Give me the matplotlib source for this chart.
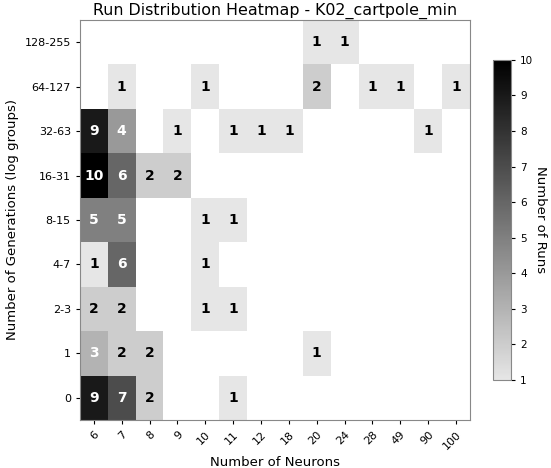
import numpy as np
import matplotlib
matplotlib.use('Agg')
import matplotlib.pyplot as plt
from matplotlib.colors import LinearSegmentedColormap

# Categories
neurons = ['6', '7', '8', '9', '10', '11', '12', '18', '20', '24', '28', '49', '90', '100']
gen_groups = ['0', '1', '2-3', '4-7', '8-15', '16-31', '32-63', '64-127', '128-255']

# Counts per generation group (rows, bottom to top), one value per neuron count
row_0       = [9, 7, 2, 0, 0, 1, 0, 0, 0, 0, 0, 0, 0, 0]
row_1       = [3, 2, 2, 0, 0, 0, 0, 0, 1, 0, 0, 0, 0, 0]
row_2_3     = [2, 2, 0, 0, 1, 1, 0, 0, 0, 0, 0, 0, 0, 0]
row_4_7     = [1, 6, 0, 0, 1, 0, 0, 0, 0, 0, 0, 0, 0, 0]
row_8_15    = [5, 5, 0, 0, 1, 1, 0, 0, 0, 0, 0, 0, 0, 0]
row_16_31   = [10, 6, 2, 2, 0, 0, 0, 0, 0, 0, 0, 0, 0, 0]
row_32_63   = [9, 4, 0, 1, 0, 1, 1, 1, 0, 0, 0, 0, 1, 0]
row_64_127  = [0, 1, 0, 0, 1, 0, 0, 0, 2, 0, 1, 1, 0, 1]
row_128_255 = [0, 0, 0, 0, 0, 0, 0, 0, 1, 1, 0, 0, 0, 0]

counts = np.array([row_0, row_1, row_2_3, row_4_7, row_8_15,
                   row_16_31, row_32_63, row_64_127, row_128_255])

# gray_r starting from light gray so that 1 is not white
cmap = LinearSegmentedColormap.from_list('grays', plt.cm.gray_r(np.linspace(0.1, 1.0, 256)))

fig = plt.figure(figsize=(5.51, 4.68), dpi=100)
ax = fig.add_axes([0.145, 0.1026, 0.708, 0.8547])
cax = fig.add_axes([0.895, 0.188, 0.0327, 0.684])

masked = np.ma.masked_where(counts == 0, counts)
mesh = ax.pcolormesh(np.arange(len(neurons) + 1) - 0.5, np.arange(len(gen_groups) + 1) - 0.5,
                     masked, cmap=cmap, vmin=1, vmax=10)

for i in range(counts.shape[0]):
    for j in range(counts.shape[1]):
        v = counts[i, j]
        if v > 0:
            ax.text(j, i, str(v), ha='center', va='center', fontsize=10, fontweight='bold',
                    color='white' if v >= 3 else 'black')

ax.set_xlim(-0.5, len(neurons) - 0.5)
ax.set_ylim(-0.5, len(gen_groups) - 0.5)
ax.set_xticks(range(len(neurons)))
ax.set_xticklabels(neurons, rotation=45, ha='right', rotation_mode='anchor', fontsize=8)
ax.set_yticks(range(len(gen_groups)))
ax.set_yticklabels(gen_groups, fontsize=8)
ax.tick_params(length=3)
for s in ax.spines.values():
    s.set_color('#888888')

ax.set_title('Run Distribution Heatmap - K02_cartpole_min', fontsize=11.4, pad=4)
ax.set_xlabel('Number of Neurons', fontsize=9.5)
ax.set_ylabel('Number of Generations (log groups)', fontsize=9.5)

cb = fig.colorbar(mesh, cax=cax)
cb.set_ticks(range(1, 11))
cb.ax.tick_params(labelsize=7.5, length=3)
cb.outline.set_edgecolor('#888888')
cb.set_label('Number of Runs', rotation=270, labelpad=10, fontsize=9.5)

fig.savefig('out.png', dpi=100)
